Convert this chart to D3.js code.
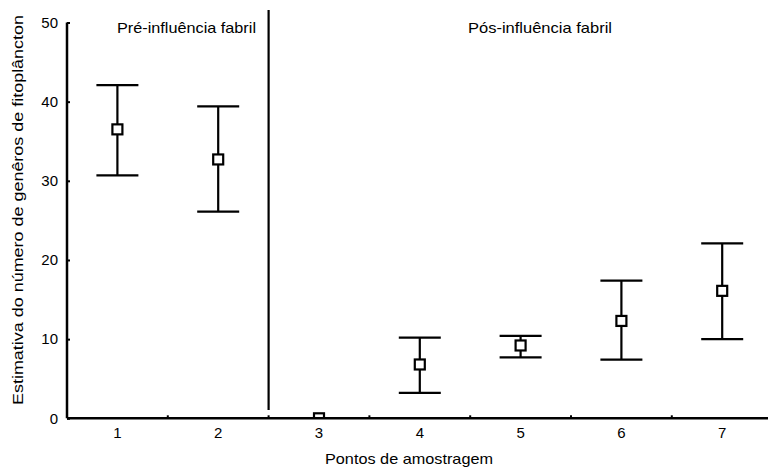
<!DOCTYPE html>
<html>
<head>
<meta charset="utf-8">
<script src="https://cdn.jsdelivr.net/npm/d3@7"></script>
<style>
  body { margin: 0; background: #fff; }
  svg { display: block; font-family: 'Liberation Sans', Arial, sans-serif; }
</style>
</head>
<body>
<svg id="chart"></svg>
<script>
// sampling points and the estimated number of phytoplankton genera
const points = ['1', '2', '3', '4', '5', '6', '7'];
const means = [36.5, 32.7, 0, 6.8, 9.2, 12.3, 16.1];
const upper = [42.1, 39.4, null, 10.2, 10.4, 17.4, 22.1];
const lower = [30.7, 26.1, null, 3.2, 7.7, 7.4, 10.0];
const yTicks = [0, 10, 20, 30, 40, 50];

const dim = { width: 768, height: 471, left: 67, right: 772.6, top: 22.5, bottom: 418.3 };

const svg = d3.select('#chart')
  .attr('width', dim.width)
  .attr('height', dim.height);

const x = d3.scaleBand()
  .domain(points)
  .range([dim.left, dim.right])
  .padding(0);

const y = d3.scaleLinear()
  .domain([0, 50])
  .range([dim.bottom, dim.top]);

const cx = d => x(d) + x.bandwidth() / 2;
const capHalf = 21;

// clip so the square sitting on zero is cut by the axis
svg.append('clipPath')
  .attr('id', 'plot-clip')
  .append('rect')
  .attr('x', dim.left)
  .attr('y', 0)
  .attr('width', dim.right - dim.left)
  .attr('height', dim.bottom);

const plot = svg.append('g').attr('clip-path', 'url(#plot-clip)');

points.forEach((p, i) => {
  if (upper[i] == null) return;
  const g = plot.append('g')
    .attr('stroke', '#000')
    .attr('stroke-width', 2.2)
    .attr('fill', 'none');
  g.append('line')
    .attr('x1', cx(p)).attr('x2', cx(p))
    .attr('y1', y(upper[i])).attr('y2', y(lower[i]));
  [upper[i], lower[i]].forEach(v => {
    g.append('line')
      .attr('x1', cx(p) - capHalf).attr('x2', cx(p) + capHalf)
      .attr('y1', y(v)).attr('y2', y(v));
  });
});

const sq = 10;
plot.selectAll('rect.mean')
  .data(points)
  .join('rect')
  .attr('class', 'mean')
  .attr('x', d => cx(d) - sq / 2)
  .attr('y', (d, i) => y(means[i]) - sq / 2)
  .attr('width', sq)
  .attr('height', sq)
  .attr('fill', '#fff')
  .attr('stroke', '#000')
  .attr('stroke-width', 2.2);

// divider between pre and post influence
svg.append('line')
  .attr('x1', x('3')).attr('x2', x('3'))
  .attr('y1', 10).attr('y2', 410)
  .attr('stroke', '#000')
  .attr('stroke-width', 2.2);

// y axis
const yAxis = svg.append('g')
  .attr('transform', `translate(${dim.left},0)`)
  .call(d3.axisLeft(y).tickValues(yTicks).tickSize(-3).tickPadding(9));
yAxis.select('.domain').attr('stroke-width', 2.5).attr('d', `M0,${dim.top}V${dim.bottom}`);
yAxis.selectAll('.tick line').attr('stroke-width', 2);
yAxis.selectAll('.tick text')
  .attr('font-size', 15)
  .attr('fill', '#000')
  .attr('font-family', "'Liberation Sans', Arial, sans-serif");

// x axis: ticks sit between the points, labels at band centres
const xAxis = svg.append('g')
  .attr('transform', `translate(0,${dim.bottom})`);
xAxis.append('line')
  .attr('x1', dim.left).attr('x2', dim.right)
  .attr('stroke', '#000')
  .attr('stroke-width', 2.5);
xAxis.selectAll('line.tick')
  .data(points.slice(1))
  .join('line')
  .attr('class', 'tick')
  .attr('x1', d => x(d)).attr('x2', d => x(d))
  .attr('y1', 0).attr('y2', -3)
  .attr('stroke', '#000')
  .attr('stroke-width', 2);
xAxis.selectAll('text')
  .data(points)
  .join('text')
  .attr('x', d => cx(d))
  .attr('y', 20)
  .attr('text-anchor', 'middle')
  .attr('font-size', 15)
  .text(d => d);

// titles, stretched to the widths of the original
const title = (tx, ty, len, str) => svg.append('text')
  .attr('x', tx).attr('y', ty)
  .attr('font-size', 14.5)
  .attr('textLength', len)
  .attr('lengthAdjust', 'spacingAndGlyphs')
  .text(str);

title(117, 33, 139, 'Pré-influência fabril');
title(468, 33, 144, 'Pós-influência fabril');
title(325, 464, 168, 'Pontos de amostragem');

svg.append('text')
  .attr('transform', 'translate(23,210) rotate(-90)')
  .attr('text-anchor', 'middle')
  .attr('font-size', 14.5)
  .attr('textLength', 390)
  .attr('lengthAdjust', 'spacingAndGlyphs')
  .text('Estimativa do número de genêros de fitoplâncton');
</script>
</body>
</html>
